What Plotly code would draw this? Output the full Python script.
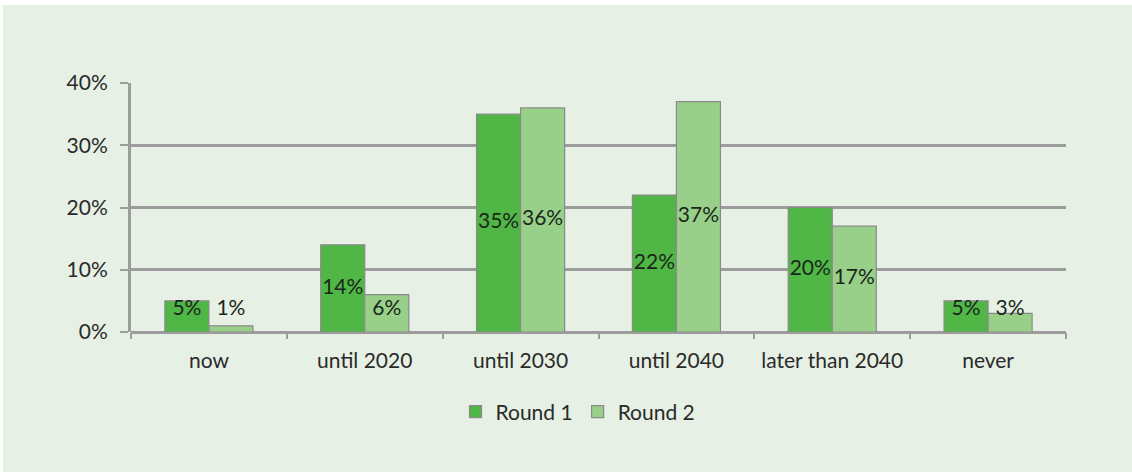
import plotly.graph_objects as go

# Survey answers: when will it happen?
categories = ["now", "until 2020", "until 2030", "until 2040", "later than 2040", "never"]
round1 = [5, 14, 35, 22, 20, 5]
round2 = [1, 6, 36, 37, 17, 3]
series_names = ["Round 1", "Round 2"]
y_ticks = [0, 10, 20, 30, 40]
y_tick_labels = ["0%", "10%", "20%", "30%", "40%"]

C1 = "#50b747"
C2 = "#99d089"
PANEL = "#e6f0e4"
GRID = "#9c9c9c"
TXT = "#2a2a2a"
FONT = "Lato"
FS = 21

BARGAP = 0.435
bar_w = (1 - BARGAP) / 2          # width of one bar in category units
label_floor = 3.6                 # keep labels of short bars readable

# pixel frame of the plot area
W, H = 1132, 472
L, R, T, B = 131, 66, 83, 140
pw, ph = W - L - R, H - T - B

def px_x(p):
    return (p - L) / pw

def px_y(p):
    return (H - B - p) / ph

fig = go.Figure()

for name, vals, col in [(series_names[0], round1, C1), (series_names[1], round2, C2)]:
    fig.add_trace(go.Bar(
        name=name, x=categories, y=vals,
        marker=dict(color=col, line=dict(color="#8a8a8a", width=1.2)),
        hoverinfo="skip",
    ))

# value labels, centred in each bar
for vals, sign in [(round1, -1), (round2, 1)]:
    fig.add_trace(go.Scatter(
        x=[i + sign * bar_w / 2 for i in range(len(vals))],
        y=[max(v / 2, label_floor) for v in vals],
        text=[f"{v}%" for v in vals],
        mode="text",
        textfont=dict(family=FONT, size=FS, color="#1a261a"),
        xaxis="x2", showlegend=False, hoverinfo="skip",
    ))

# green panel behind the chart, leaving a thin white edge at the top and left
fig.add_shape(type="rect", xref="paper", yref="paper",
              x0=px_x(3), x1=px_x(W + 5), y0=px_y(H + 5), y1=px_y(5),
              fillcolor=PANEL, line=dict(width=0), layer="below")

fig.update_layout(
    width=W, height=H,
    margin=dict(l=L, r=R, t=T, b=B),
    paper_bgcolor="white",
    plot_bgcolor="rgba(0,0,0,0)",
    barmode="group", bargap=BARGAP, bargroupgap=0,
    font=dict(family=FONT, size=FS, color=TXT),
    xaxis=dict(
        type="category", tickson="boundaries",
        ticks="outside", ticklen=6, tickwidth=2, tickcolor=GRID,
        showgrid=False, showline=False, zeroline=False,
        tickfont=dict(family=FONT, size=FS, color=TXT),
        ticklabelstandoff=14,
    ),
    xaxis2=dict(overlaying="x", range=[-0.5, len(categories) - 0.5],
                visible=False, fixedrange=True),
    yaxis=dict(
        range=[0, 40], tickvals=y_ticks, ticktext=y_tick_labels,
        showgrid=True, gridcolor=GRID, gridwidth=3,
        zeroline=True, zerolinecolor=GRID, zerolinewidth=3,
        showline=True, linecolor=GRID, linewidth=3,
        ticks="outside", ticklen=8, tickwidth=2, tickcolor=GRID,
        tickfont=dict(family=FONT, size=FS, color=TXT),
        ticklabelstandoff=8,
    ),
    legend=dict(orientation="h", x=px_x(578), xanchor="center",
                y=px_y(412), yanchor="middle",
                font=dict(family=FONT, size=FS, color=TXT),
                bgcolor="rgba(0,0,0,0)", itemwidth=30, tracegroupgap=0),
)

fig.write_html("out.html")
